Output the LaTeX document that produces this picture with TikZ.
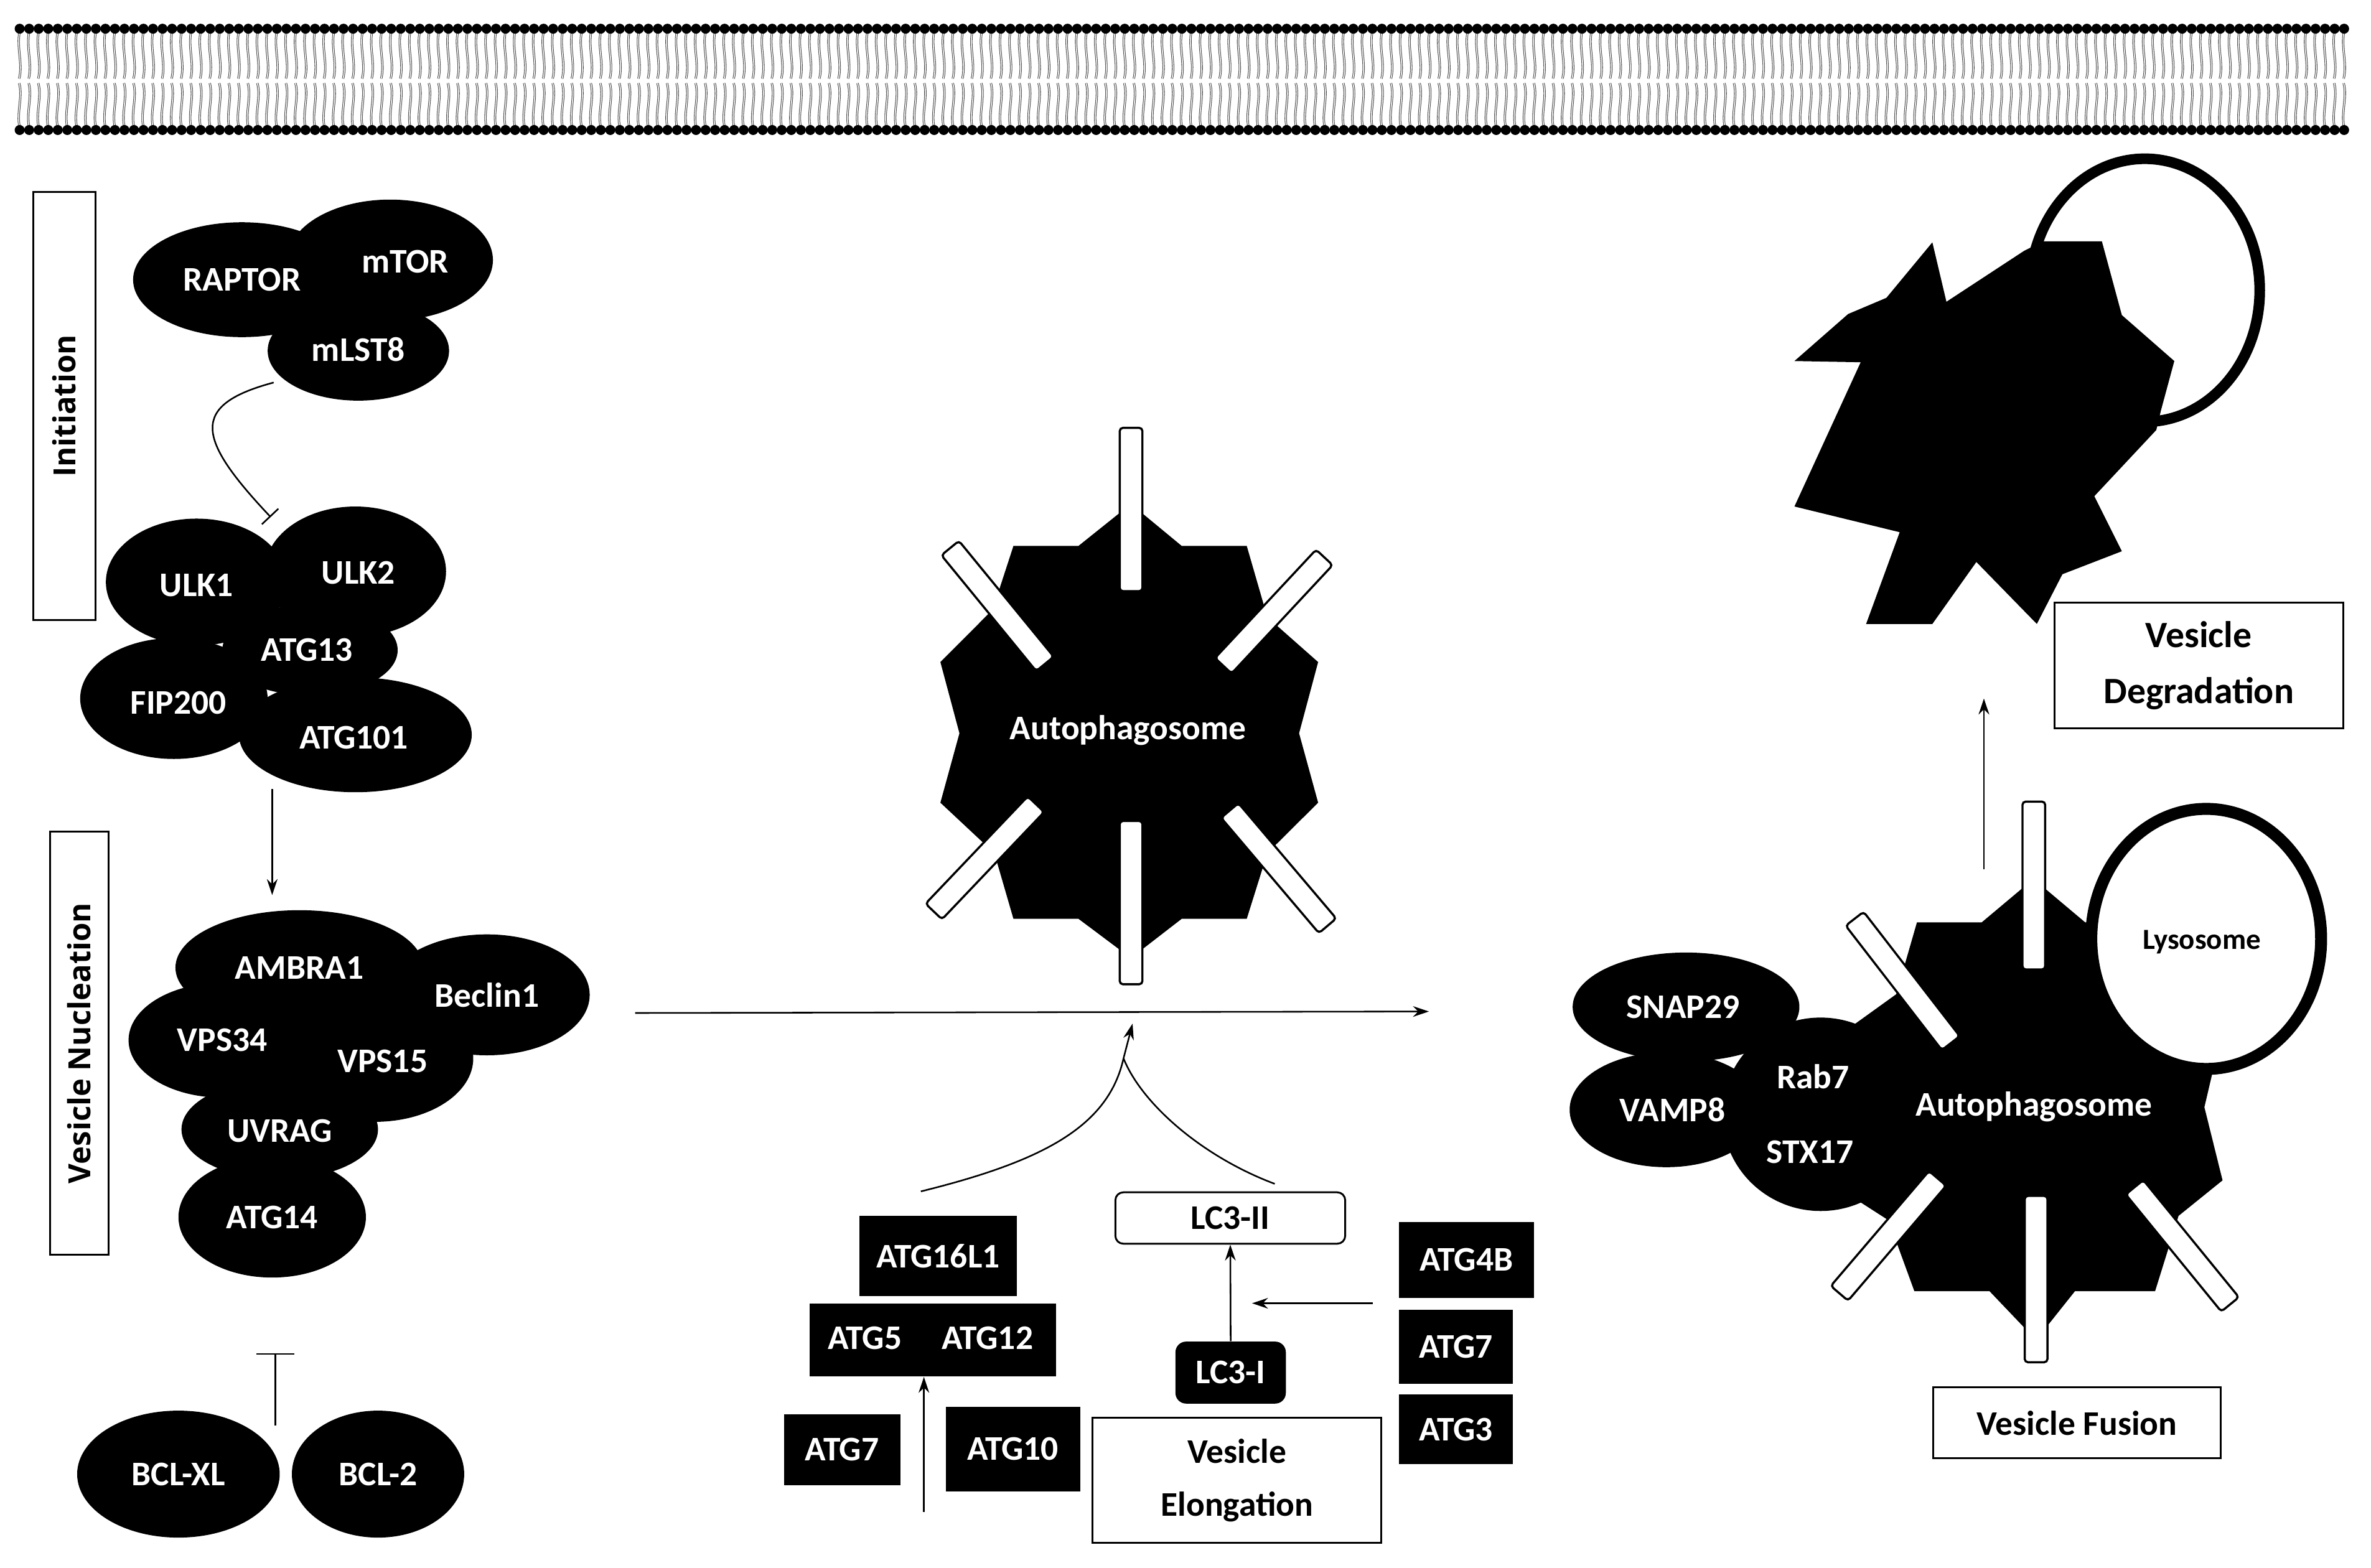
\documentclass[tikz,border=0pt]{standalone}
\usepackage{fontspec}
\setmainfont{Carlito}
\newfontfamily\osans{Open Sans}
\usetikzlibrary{shapes.geometric,arrows.meta}
\begin{document}
\begin{tikzpicture}[x=0.02cm,y=-0.02cm,
  e/.style n args={2}{ellipse, fill=black, inner sep=0pt, minimum width=#1*0.04cm, minimum height=#2*0.04cm},
  wt/.style={text=white, font=\bfseries\fontsize{13}{15}\selectfont, inner sep=0pt},
  bt/.style={text=black, font=\bfseries\fontsize{13}{15}\selectfont, inner sep=0pt},
  blk/.style={fill=black, text=white, font=\bfseries\fontsize{13}{15}\selectfont, inner sep=0pt, anchor=north west},
  lbl/.style={draw=black, line width=0.7pt, fill=white, inner sep=0pt, anchor=north west, align=center, font=\bfseries\fontsize{13}{16}\selectfont},
  bar/.style={draw=black, fill=white, line width=0.8pt, rounded corners=1.2pt, minimum width=#1*0.02cm, minimum height=0.3cm, inner sep=0pt},
  con/.style={line width=0.6pt},
  arr/.style={line width=0.6pt, -{Stealth[length=6pt,width=4pt]}},
  vlab/.style={font=\osans\bfseries\fontsize{11.5}{13}\selectfont, rotate=90, inner sep=0pt}
]
\useasboundingbox (0,0) rectangle (1568,1037);
% membrane
\foreach \i in {0,...,244}{
  \pgfmathsetmacro\x{13+\i*6.3}
  \draw[gray!60!black, line width=0.25pt, double=white, double distance=0.35pt] (\x,21) .. controls (\x-2.2,31) and (\x+2.2,42) .. (\x-0.3,52);
  \draw[gray!60!black, line width=0.25pt, double=white, double distance=0.35pt] (\x,84) .. controls (\x-2.2,75) and (\x+2.2,64) .. (\x-0.3,55);
  \fill (\x,19) circle (3.3);
  \fill (\x,86) circle (3.3);
}
% stage labels
\node[draw, line width=0.7pt, minimum width=41*0.02cm, minimum height=283*0.02cm, inner sep=0pt] (initbox) at (42.5,268.5) {};
\node[vlab] (inittxt) at (42.5,268.5) {Initiation};
\node[draw, line width=0.7pt, minimum width=39*0.02cm, minimum height=280*0.02cm, inner sep=0pt] (nucbox) at (52.5,690) {};
\node[vlab] (nuctxt) at (52.5,690) {Vesicle Nucleation};
% initiation complex
\node[e={72}{38}] (raptor) at (160,185) {};
\node[e={68}{40}] (mtor) at (258,172) {};
\node[e={60}{33}] (mlst8) at (237,232) {};
\node[wt] (traptor) at (160,185) {RAPTOR};
\node[wt] (tmtor) at (268,173) {mTOR};
\node[wt] (tmlst8) at (237,231) {mLST8};
\node[e={60}{42}] (ulk1) at (130,385) {};
\node[e={60}{43}] (ulk2) at (235,378) {};
\node[e={58}{30}] (atg13) at (205,430) {};
\node[e={62}{40}] (fip200) at (115,462) {};
\node[e={77}{38}] (atg101) at (235,486) {};
\node[wt] (tulk1) at (130,387) {ULK1};
\node[wt] (tulk2) at (237,379) {ULK2};
\node[wt] (tatg13) at (203,430) {ATG13};
\node[wt] (tfip200) at (118,465) {FIP200};
\node[wt] (tatg101) at (234,488) {ATG101};
\coordinate (inhA) at (181,253);
\coordinate (inhB) at (179,342);
\draw[con, -{Bar[width=0.3cm]}] (inhA) .. controls (125,268) and (130,290) .. (inhB);
\coordinate (a1) at (180,522);
\coordinate (a2) at (180,592);
\draw[arr] (a1) -- (a2);
% nucleation complex
\node[e={82}{38}] (ambra) at (198,640) {};
\node[e={68}{40}] (beclin) at (322,658) {};
\node[e={62}{38}] (vps34) at (147,688) {};
\node[e={65}{42}] (vps15) at (248,700) {};
\node[e={65}{33}] (uvrag) at (185,747) {};
\node[e={62}{40}] (atg14) at (180,805) {};
\node[wt] (tambra) at (198,640) {AMBRA1};
\node[wt] (tbeclin) at (322,658) {Beclin1};
\node[wt] (tvps34) at (147,688) {VPS34};
\node[wt] (tvps15) at (253,702) {VPS15};
\node[wt] (tuvrag) at (185,748) {UVRAG};
\node[wt] (tatg14) at (180,805) {ATG14};
\node[e={67}{42}] (bclxl) at (118,975) {};
\node[e={57}{42}] (bcl2) at (250,975) {};
\node[wt] (tbclxl) at (118,975) {BCL-XL};
\node[wt] (tbcl2) at (250,975) {BCL-2};
\coordinate (t1) at (182,943);
\coordinate (t2) at (182,895);
\draw[con, -{Bar[width=0.5cm]}] (t1) -- (t2);
% autophagosome 1
\fill (747.9,333.3) -- (781.5,361.1) -- (824.5,361.1) -- (838.1,408.2) -- (871.7,437.9) -- (859.1,485.0) -- (871.7,530.9) -- (838.1,564.3) -- (824.5,607.7) -- (781.5,607.7) -- (747.9,633.7) -- (713.2,607.7) -- (670.2,607.7) -- (657.6,564.3) -- (621.9,530.9) -- (634.5,485.0) -- (621.9,437.9) -- (656.5,403.2) -- (670.2,361.1) -- (713.2,361.1) -- cycle;
\node[bar=108, rotate=90] (b1) at (748,337) {};
\node[bar=108, rotate=90] (b2) at (748,597) {};
\node[bar=99] (b3) at (659.7,400.8) [rotate=-50.7] {};
\node[bar=98] (b4) at (842.4,404.5) [rotate=47] {};
\node[bar=98] (b5) at (651.3,567.4) [rotate=46.4] {};
\node[bar=100] (b6) at (845.6,574.2) [rotate=-49.7] {};
\node[wt] (auto1) at (746,483) {Autophagosome};
% main arrow
\coordinate (m1) at (420,670);
\coordinate (m2) at (945,669);
\draw[arr] (m1) -- (m2);
% elongation
\node[blk, minimum width=104*0.02cm, minimum height=53*0.02cm] (atg16) at (568,804) {ATG16L1};
\node[blk, minimum width=163*0.02cm, minimum height=48*0.02cm] (atg512) at (535,862) {};
\node[wt] (tatg5) at (572,885) {ATG5};
\node[wt] (tatg12) at (653,885) {ATG12};
\node[blk, minimum width=77*0.02cm, minimum height=47*0.02cm] (atg7a) at (518,935) {ATG7};
\node[blk, minimum width=89*0.02cm, minimum height=56*0.02cm] (atg10) at (625,930) {ATG10};
\draw[arr] (611,1000) -- (atg512.south -| 611,0);
\node[draw, line width=0.7pt, rounded corners=3pt, anchor=north west, minimum width=152*0.02cm, minimum height=34*0.02cm, inner sep=0pt, font=\bfseries\fontsize{13}{15}\selectfont] (lc3ii) at (737,788) {LC3-II};
\node[blk, rounded corners=4pt, minimum width=73*0.02cm, minimum height=41*0.02cm] (lc3i) at (777,887) {LC3-I};
\draw[arr] (lc3i.north) -- (lc3ii.south);
\coordinate (h1) at (908,862);
\coordinate (h2) at (828,862);
\draw[arr] (h1) -- (h2);
\node[blk, minimum width=89*0.02cm, minimum height=50*0.02cm] (atg4b) at (925,808) {ATG4B};
\node[blk, minimum width=75*0.02cm, minimum height=49*0.02cm] (atg7b) at (925,866) {ATG7};
\node[blk, minimum width=75*0.02cm, minimum height=46*0.02cm] (atg3) at (925,922) {ATG3};
\node[lbl, minimum width=191*0.02cm, minimum height=83*0.02cm] (elong) at (722,937) {Vesicle\\[4pt]Elongation};
\coordinate (cl) at (609,788);
\coordinate (cr) at (843,783);
\coordinate (apex) at (743,700);
\coordinate (tip) at (749,677);
\draw[con] (cl) .. controls (690,768) and (733,745) .. (apex);
\draw[con] (cr) .. controls (795,765) and (755,730) .. (apex);
\draw[arr] (apex) -- (tip);
% fusion
\node[e={65}{64}] (rab7) at (1204,737) {};
\node[e={75}{36}] (snap29) at (1115,666) {};
\node[e={64}{38}] (vamp8) at (1102,734) {};
\fill (1344.8,581.3) -- (1379,610.1) -- (1433.8,610.1) -- (1450.9,657.6) -- (1469.8,681) -- (1457.8,732.3) -- (1469.8,780.7) -- (1440.7,804.2) -- (1425.2,854) -- (1372.2,854) -- (1346.5,886.3) -- (1315.7,854) -- (1266,854) -- (1248.9,807.1) -- (1221.5,789.5) -- (1214.6,732.3) -- (1221.5,681) -- (1254,657.6) -- (1267.7,610.1) -- (1310.5,610.1) -- cycle;
\node[bar=111, rotate=90] (c1) at (1345,585.7) {};
\node[bar=110, rotate=90] (c2) at (1346.5,846) {};
\node[bar=104] (c3) at (1258.3,648.8) [rotate=-52.3] {};
\node[bar=100] (c4) at (1248.9,817.4) [rotate=49.5] {};
\node[bar=100] (c5) at (1443.2,824) [rotate=-50.8] {};
\node[draw=black, line width=4.5pt, fill=white, ellipse, minimum width=152*0.02cm, minimum height=172*0.02cm, inner sep=0pt] (lyso) at (1459,621) {};
\node[bt, font=\bfseries\fontsize{11}{13}\selectfont] (tlyso) at (1456,623) {Lysosome};
\node[wt] (tsnap) at (1113,666) {SNAP29};
\node[wt] (tvamp) at (1106,734) {VAMP8};
\node[wt] (trab7) at (1199,712) {Rab7};
\node[wt] (tstx) at (1197,762) {STX17};
\node[wt] (auto2) at (1345,732) {Autophagosome};
\node[lbl, minimum width=190*0.02cm, minimum height=47*0.02cm] (fusion) at (1278,917) {Vesicle Fusion};
% degradation
\node[draw=black, line width=4pt, fill=white, ellipse, minimum width=152*0.02cm, minimum height=174*0.02cm, inner sep=0pt] (lyso2) at (1418.4,192) {};
\fill (1186.7,238.8) -- (1222.2,207.7) -- (1247.5,197.0) -- (1277.9,160.3) -- (1287.2,199.6) -- (1338.6,165.9) -- (1351.3,159.6) -- (1390.0,159.6) -- (1403.2,208.4) -- (1437.9,238.8) -- (1429.0,271.7) -- (1426.0,284.4) -- (1385.0,328.2) -- (1403.2,364.6) -- (1363.9,379.8) -- (1347.0,412.7) -- (1307.0,371.7) -- (1277.9,412.7) -- (1234.1,412.7) -- (1256.3,352.0) -- (1186.7,335.0) -- (1230.5,239.6) -- cycle;
\node[lbl, minimum width=191*0.02cm, minimum height=83*0.02cm, font=\bfseries\fontsize{14}{17}\selectfont] (degr) at (1358,398) {Vesicle\\[4pt]Degradation};
\coordinate (d1) at (1312,575);
\coordinate (d2) at (1312,462);
\draw[arr] (d1) -- (d2);
\end{tikzpicture}
\end{document}
